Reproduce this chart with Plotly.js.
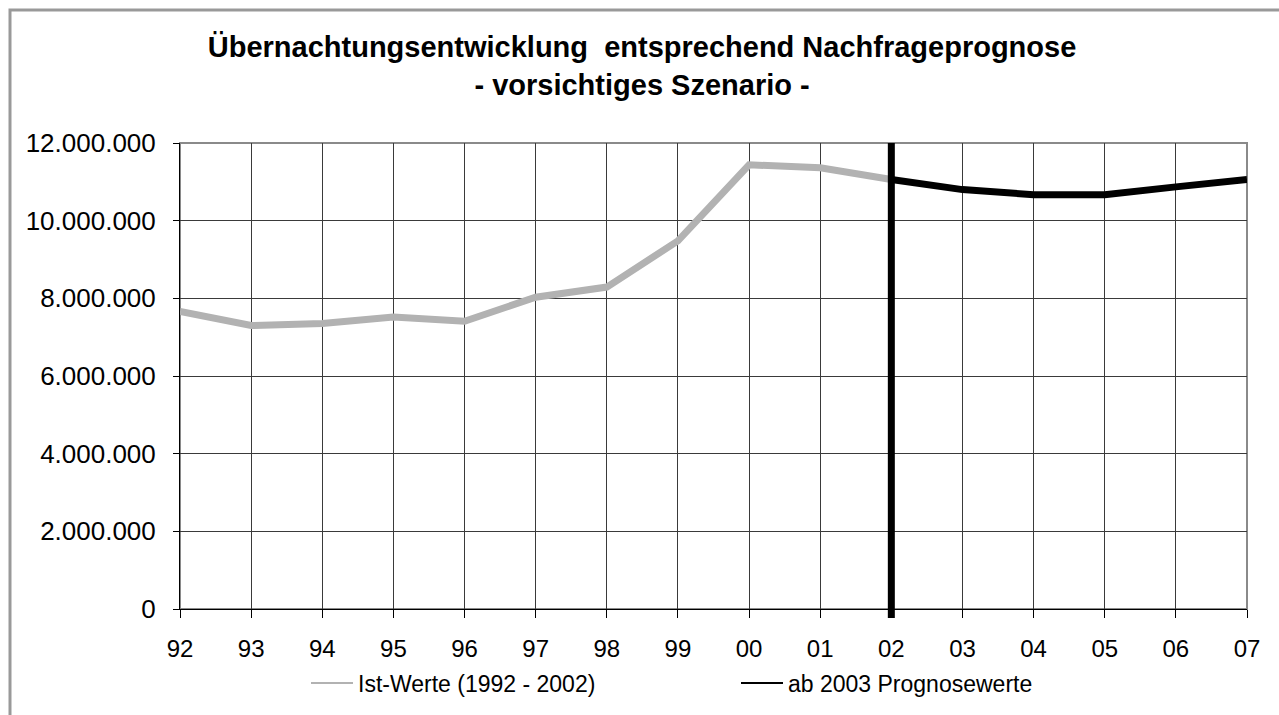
<!DOCTYPE html>
<html>
<head>
<meta charset="utf-8">
<script src="https://cdn.plot.ly/plotly-3.0.1.min.js"></script>
<style>
html,body{margin:0;padding:0;background:#fff;}
#chart{width:1279px;height:715px;}
</style>
</head>
<body>
<div id="chart"></div>
<script>
// Data
var categories = ['92','93','94','95','96','97','98','99','00','01','02','03','04','05','06','07'];
var istWerte = [7660000, 7300000, 7350000, 7520000, 7410000, 8030000, 8290000, 9480000, 11440000, 11360000, 11060000, null, null, null, null, null];
var prognose = [null, null, null, null, null, null, null, null, null, null, 11060000, 10800000, 10670000, 10670000, 10870000, 11060000];
var seriesNames = ['Ist-Werte (1992 - 2002)', 'ab 2003 Prognosewerte'];
var dividerCategory = '02';
var titleText = '<b>Übernachtungsentwicklung  entsprechend Nachfrageprognose<br>- vorsichtiges Szenario -</b>';

var font = 'Liberation Sans, Arial, sans-serif';
var dividerIndex = categories.indexOf(dividerCategory);

var traces = [
  {x: categories, y: istWerte, type: 'scatter', mode: 'lines', name: seriesNames[0],
   line: {color: '#b2b2b2', width: 7}, showlegend: false, connectgaps: false},
  {x: categories, y: prognose, type: 'scatter', mode: 'lines', name: seriesNames[1],
   line: {color: '#000000', width: 7}, showlegend: false, connectgaps: false},
  {x: [null], y: [null], type: 'scatter', mode: 'lines', name: seriesNames[0],
   line: {color: '#b2b2b2', width: 2}, showlegend: true},
  {x: [null], y: [null], type: 'scatter', mode: 'lines', name: seriesNames[1],
   line: {color: '#000000', width: 2}, showlegend: true}
];

var layout = {
  width: 1279, height: 715,
  margin: {l: 180, r: 32, t: 143, b: 106},
  paper_bgcolor: '#ffffff', plot_bgcolor: '#ffffff',
  separators: ',.',
  font: {family: font, size: 22, color: '#000'},
  title: {text: titleText, font: {family: font, size: 29, color: '#000'},
          x: 0.502, xref: 'container', y: 1 - 57/715, yref: 'container', yanchor: 'top'},
  xaxis: {type: 'category', range: [0, categories.length - 1],
          showgrid: true, gridcolor: '#3a3a3a', gridwidth: 1,
          showline: true, linecolor: '#000', linewidth: 1,
          ticks: 'outside', ticklen: 8, tickcolor: '#000', tickwidth: 1,
          ticklabelstandoff: 10,
          tickfont: {family: font, size: 24, color: '#000'}, zeroline: false,
          fixedrange: true},
  yaxis: {range: [0, 12000000], dtick: 2000000, tickformat: ',d',
          showgrid: true, gridcolor: '#3a3a3a', gridwidth: 1,
          showline: true, linecolor: '#000', linewidth: 1,
          ticks: 'outside', ticklen: 6, tickcolor: '#000', tickwidth: 1,
          ticklabelstandoff: 12,
          tickfont: {family: font, size: 26, color: '#000'}, zeroline: false,
          fixedrange: true},
  legend: {orientation: 'h', x: 306/1279, xanchor: 'left', xref: 'container',
           y: 1 - 683/715, yref: 'container', yanchor: 'middle',
           font: {family: font, size: 23, color: '#000'}, itemwidth: 42,
           entrywidth: 373, entrywidthmode: 'pixels', bgcolor: 'rgba(0,0,0,0)'},
  shapes: [
    // outer chart border
    {type: 'rect', xref: 'paper', yref: 'paper', x0: -170/1067, x1: 1.2, y0: -0.4, y1: 1 + 133/466,
     line: {color: '#999', width: 3}, layer: 'below'},
    // plot area frame (top/right gray)
    {type: 'rect', xref: 'paper', yref: 'paper', x0: 0, x1: 1, y0: 0, y1: 1,
     line: {color: '#8a8a8a', width: 2}, layer: 'below'},
    // divider at 2002
    {type: 'line', xref: 'x', yref: 'paper', x0: dividerIndex, x1: dividerIndex,
     y0: -9/466, y1: 1, line: {color: '#000', width: 7}, layer: 'above'}
  ],
  showlegend: true
};

Plotly.newPlot('chart', traces, layout, {displayModeBar: false, staticPlot: true});
</script>
</body>
</html>
